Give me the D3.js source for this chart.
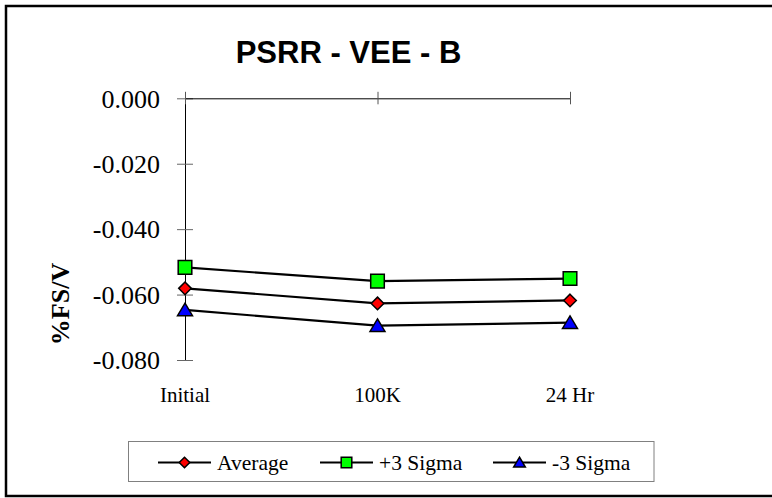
<!DOCTYPE html>
<html>
<head>
<meta charset="utf-8">
<script src="https://cdn.jsdelivr.net/npm/d3@7/dist/d3.min.js"></script>
<style>
  html, body { margin: 0; padding: 0; background: #fff; }
  svg { display: block; }
</style>
</head>
<body>
<svg id="chart" width="772" height="498"></svg>
<script>
const categories = ["Initial", "100K", "24 Hr"];
const average = [-0.0581, -0.0627, -0.0618];
const plus3Sigma = [-0.0517, -0.0559, -0.0551];
const minus3Sigma = [-0.0647, -0.0695, -0.0686];
const yTicks = [0, -0.02, -0.04, -0.06, -0.08];
const seriesNames = ["Average", "+3 Sigma", "-3 Sigma"];

const series = [
  { name: seriesNames[0], values: average, symbol: "diamond", fill: "#ff0000" },
  { name: seriesNames[1], values: plus3Sigma, symbol: "square", fill: "#00ff00" },
  { name: seriesNames[2], values: minus3Sigma, symbol: "triangle", fill: "#0000ff" }
];

const svg = d3.select("#chart");
const serif = "'Liberation Serif', 'Times New Roman', serif";

// outer frame
svg.append("rect").attr("x", 6).attr("y", 6).attr("width", 780).attr("height", 490)
  .attr("fill", "#fff").attr("stroke", "#000").attr("stroke-width", 2.5);

const x = d3.scalePoint().domain(categories).range([185, 570]).padding(0);
const y = d3.scaleLinear().domain([-0.08, 0]).range([360, 98.3]);

// title
svg.append("text").attr("x", 348.5).attr("y", 63).attr("text-anchor", "middle")
  .attr("font-family", "'Liberation Sans', Arial, sans-serif").attr("font-weight", "bold")
  .attr("font-size", 31).text("PSRR - VEE - B");

// y axis
const fmt = d => d3.format(".3f")(d).replace("\u2212", "-");
const yAxis = d3.axisLeft(y).tickValues(yTicks).tickFormat(fmt)
  .tickSizeInner(0).tickSizeOuter(0).tickPadding(25);
const gy = svg.append("g").attr("transform", `translate(${x(categories[0])},0)`).call(yAxis);
gy.select(".domain").attr("stroke", "#000").attr("stroke-width", 1);
gy.selectAll(".tick text").attr("font-family", serif).attr("font-size", 26).attr("fill", "#000")
  .attr("dy", "0.34em");
gy.selectAll(".tick").append("line").attr("x1", -8).attr("x2", 8)
  .attr("stroke", "#666").attr("stroke-width", 1);

// x axis line at y=0 with crossing ticks
const xAxis = d3.axisTop(x).tickSizeInner(0).tickSizeOuter(0).tickFormat("");
const gx = svg.append("g").attr("transform", `translate(0,${y(0)})`).call(xAxis);
gx.select(".domain").attr("stroke", "#000").attr("stroke-width", 1);
gx.selectAll(".tick").append("line").attr("y1", -6.5).attr("y2", 6)
  .attr("stroke", "#555").attr("stroke-width", 1);

// x labels at bottom
svg.append("g").selectAll("text").data(categories).join("text")
  .attr("x", d => x(d)).attr("y", 402).attr("text-anchor", "middle")
  .attr("font-family", serif).attr("font-size", 21).attr("fill", "#000").text(d => d);

// y axis title
svg.append("text").attr("transform", "translate(69,304) rotate(-90)")
  .attr("text-anchor", "middle").attr("font-family", serif).attr("font-weight", "bold")
  .attr("font-size", 26).text("%FS/V");

function markerPath(symbol, s) {
  if (symbol === "diamond") return `M0,${-s}L${s},0L0,${s}L${-s},0Z`;
  if (symbol === "square") return `M${-s},${-s}H${s}V${s}H${-s}Z`;
  return `M0,${-s}L${s*1.1},${s*0.85}H${-s*1.1}Z`;
}

const line = d3.line().x((d, i) => x(categories[i])).y(d => y(d));
series.forEach(s => {
  svg.append("path").attr("d", line(s.values)).attr("fill", "none")
    .attr("stroke", "#000").attr("stroke-width", 2.2);
});
series.forEach(s => {
  const size = s.symbol === "diamond" ? 6.3 : 6.8;
  svg.append("g").selectAll("path").data(s.values).join("path")
    .attr("transform", (d, i) => `translate(${x(categories[i])},${y(d)})`)
    .attr("d", markerPath(s.symbol, size)).attr("fill", s.fill)
    .attr("stroke", "#000").attr("stroke-width", 1.5);
});

// legend
svg.append("rect").attr("x", 128.5).attr("y", 441.5).attr("width", 525.5).attr("height", 40)
  .attr("fill", "#fff").attr("stroke", "#808080").attr("stroke-width", 1);
const legendX = [158, 320, 493];
const ly = 462.5;
series.forEach((s, i) => {
  const g = svg.append("g").attr("transform", `translate(${legendX[i]},${ly})`);
  g.append("line").attr("x1", 0).attr("x2", 53).attr("stroke", "#000").attr("stroke-width", 2.2);
  g.append("path").attr("transform", "translate(26.5,0)").attr("d", markerPath(s.symbol, 5.3))
    .attr("fill", s.fill).attr("stroke", "#000").attr("stroke-width", 1.5);
  g.append("text").attr("x", 59).attr("y", 0).attr("dy", "0.33em")
    .attr("font-family", serif).attr("font-size", 21.5).attr("fill", "#000").text(s.name);
});
</script>
</body>
</html>
